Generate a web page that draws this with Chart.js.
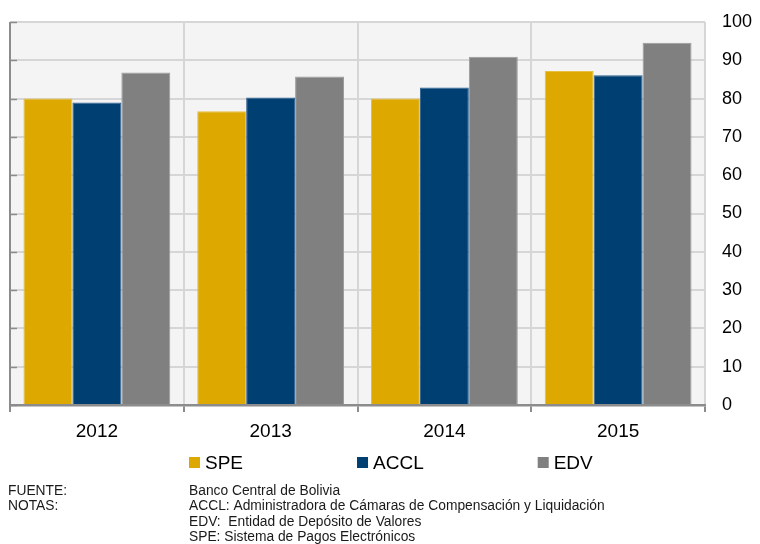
<!DOCTYPE html>
<html>
<head>
<meta charset="utf-8">
<script src="https://cdn.jsdelivr.net/npm/chart.js@4.4.0/dist/chart.umd.min.js"></script>
<style>
  html, body { margin: 0; padding: 0; background: #ffffff; }
  #wrap { width: 760px; height: 544px; position: relative; }
</style>
</head>
<body>
<div id="wrap"><canvas id="c" width="760" height="544"></canvas></div>
<script>
// ---- Data ----
const categories = ["2012", "2013", "2014", "2015"];
const seriesNames = ["SPE", "ACCL", "EDV"];
const speValues  = [80.0, 76.7, 80.0, 87.2];
const acclValues = [79.0, 80.3, 82.9, 86.1];
const edvValues  = [86.8, 85.8, 90.9, 94.6];
const yTickMin = 0, yTickMax = 100, yTickStep = 10;
const sourceLabel = "FUENTE:";
const sourceText = "Banco Central de Bolivia";
const notesLabel = "NOTAS:";
const notesLines = [
  "ACCL: Administradora de Cámaras de Compensación y Liquidación",
  "EDV:  Entidad de Depósito de Valores",
  "SPE: Sistema de Pagos Electrónicos"
];

const FONT = "'Liberation Sans', Arial, sans-serif";
const colors = ["#DDA900", "#003F72", "#808080"];
const borders = ["#E6BE40", "#2E5E8E", "#9A9A9A"];

const plotBg = {
  id: 'plotBg',
  beforeDraw(chart) {
    const {ctx, chartArea: a} = chart;
    ctx.save();
    ctx.fillStyle = '#F4F4F4';
    ctx.fillRect(a.left, a.top, a.right - a.left, a.bottom - a.top);
    ctx.restore();
  }
};

const leftAxis = {
  id: 'leftAxis',
  afterDatasetsDraw(chart) {
    const {ctx, chartArea: a, scales} = chart;
    const y = scales.y;
    ctx.save();
    ctx.strokeStyle = '#8C8C8C';
    ctx.lineWidth = 1.5;
    y.ticks.forEach(t => {
      const py = Math.round(y.getPixelForValue(t.value)) + 0.5;
      ctx.beginPath();
      ctx.moveTo(a.left, py);
      ctx.lineTo(a.left + 7, py);
      ctx.stroke();
    });
    ctx.lineWidth = 2;
    ctx.strokeStyle = '#8C8C8C';
    ctx.beginPath();
    ctx.moveTo(a.left, a.top);
    ctx.lineTo(a.left, a.bottom + 7);
    ctx.stroke();
    ctx.restore();
  }
};

const customLegend = {
  id: 'customLegend',
  afterDraw(chart) {
    const {ctx} = chart;
    ctx.save();
    ctx.font = "19px " + FONT;
    ctx.textBaseline = 'middle';
    let x = 189;
    const yc = 462.5;
    chart.data.datasets.forEach((ds, i) => {
      ctx.fillStyle = ds.backgroundColor;
      ctx.fillRect(x, yc - 5.5, 11, 11);
      ctx.fillStyle = '#000000';
      ctx.fillText(ds.label, x + 16, yc + 1);
      x += 16 + ctx.measureText(ds.label).width + 114;
    });
    ctx.restore();
  }
};

const footnotes = {
  id: 'footnotes',
  afterDraw(chart) {
    const {ctx} = chart;
    ctx.save();
    ctx.font = "13.8px " + FONT;
    ctx.textBaseline = 'middle';
    ctx.fillStyle = '#1a1a1a';
    const x1 = 8, x2 = 189;
    ctx.fillText(sourceLabel, x1, 491);
    ctx.fillText(sourceText, x2, 491);
    ctx.fillText(notesLabel, x1, 506.5);
    notesLines.forEach((l, i) => ctx.fillText(l, x2, 506.5 + i * 15.5));
    ctx.restore();
  }
};

const ticksArr = [];
for (let v = yTickMin; v <= yTickMax; v += yTickStep) ticksArr.push(v);

new Chart(document.getElementById('c'), {
  type: 'bar',
  data: {
    labels: categories,
    datasets: [
      { label: seriesNames[0], data: speValues,  backgroundColor: colors[0], borderColor: borders[0], borderWidth: {top: 1, left: 1, right: 1, bottom: 0} },
      { label: seriesNames[1], data: acclValues, backgroundColor: colors[1], borderColor: borders[1], borderWidth: {top: 1, left: 1, right: 1, bottom: 0} },
      { label: seriesNames[2], data: edvValues,  backgroundColor: colors[2], borderColor: borders[2], borderWidth: {top: 1, left: 1, right: 1, bottom: 0} }
    ]
  },
  options: {
    responsive: false,
    animation: false,
    devicePixelRatio: 1,
    layout: { padding: { left: 10, right: 0, top: 22, bottom: 99 } },
    plugins: { legend: { display: false }, tooltip: { enabled: false } },
    datasets: { bar: { categoryPercentage: 0.845, barPercentage: 1.0 } },
    scales: {
      x: {
        grid: { offset: true, color: '#D6D6D6', lineWidth: 2, tickColor: '#8C8C8C', tickLength: 7, drawTicks: true },
        border: { display: true, color: '#8C8C8C', width: 2.5 },
        ticks: { color: '#000000', font: { family: FONT, size: 19 }, padding: 8 },
        afterFit(s) { s.height = 40; s.paddingLeft = 0; s.paddingRight = 0; }
      },
      y: {
        position: 'right',
        min: yTickMin, max: yTickMax,
        afterBuildTicks(s) { s.ticks = ticksArr.map(v => ({value: v})); },
        grid: { color: '#D6D6D6', lineWidth: 2, drawTicks: false },
        border: { display: false },
        ticks: { color: '#000000', font: { family: FONT, size: 18 }, padding: 17, stepSize: yTickStep },
        afterFit(s) { s.width = 55; s.paddingTop = 0; s.paddingBottom = 0; }
      }
    }
  },
  plugins: [plotBg, leftAxis, customLegend, footnotes]
});
</script>
</body>
</html>
